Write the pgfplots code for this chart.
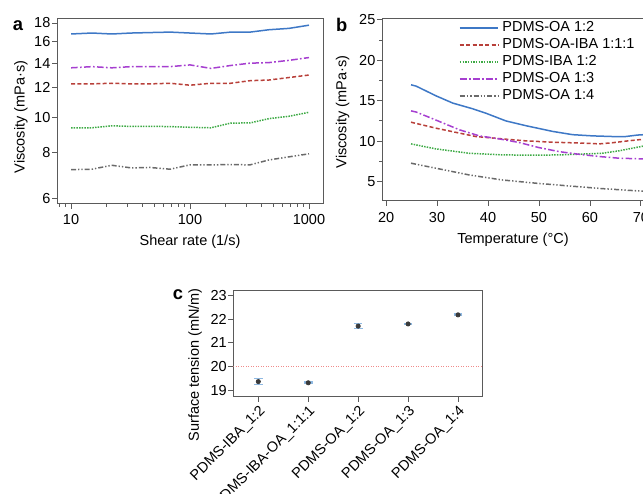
\documentclass[border=0pt]{standalone}
\usepackage{pgfplots}
\pgfplotsset{compat=1.18}
\usepackage{fontspec}
\setmainfont{Liberation Sans}
\setsansfont{Liberation Sans}

\definecolor{cblue}{HTML}{3E78C6}
\definecolor{cred}{HTML}{B8403A}
\definecolor{cgreen}{HTML}{3DAA45}
\definecolor{cpurple}{HTML}{A63FD0}
\definecolor{cgray}{HTML}{6A6A6A}
\definecolor{axisgray}{HTML}{5A5A5A}
\definecolor{ebblue}{HTML}{8FB9E2}
\definecolor{markgray}{HTML}{3A3A3A}
\definecolor{refred}{HTML}{F08A8A}

\newcommand{\tickfont}{\fontsize{8.7}{10}\selectfont}
\newcommand{\labfont}{\fontsize{8.7}{10}\selectfont}

\pgfplotsset{
  every axis/.append style={
    scale only axis,
    axis line style={draw=axisgray, line width=0.6pt},
    tick style={draw=axisgray, line width=0.5pt},
    tick align=outside,
    tick pos=left,
    major tick length=3pt,
    minor tick length=1.8pt,
    ticklabel style={font=\tickfont},
    yticklabel style={inner sep=0.8pt},
    /pgf/number format/assume math mode=true,
  },
  lblue/.style={cblue, line width=0.9pt},
  lred/.style={cred, line width=0.9pt, dash pattern=on 2.4pt off 1.4pt},
  lgreen/.style={cgreen, line width=0.9pt, dash pattern=on 0.9pt off 0.7pt},
  lpurple/.style={cpurple, line width=0.9pt, dash pattern=on 4pt off 1.4pt on 1pt off 1.4pt},
  lgray/.style={cgray, line width=0.9pt, dash pattern=on 3pt off 1.2pt on 0.8pt off 1.2pt on 0.8pt off 1.2pt},
}

\begin{document}
\begin{tikzpicture}
\useasboundingbox (0,0) rectangle (385.8pt,-296.4pt);

% ---------- panel a ----------
\begin{axis}[
    at={(34.2pt,-122.4pt)}, anchor=south west,
    width=159.6pt, height=111pt,
    xmode=log, ymode=log,
    xmin=7.62, xmax=1312,
    ymin=5.81, ymax=18.45,
    xtick={10,100,1000}, xticklabels={10,100,1000},
    minor xtick={8,9,20,30,40,50,60,70,80,90,200,300,400,500,600,700,800,900},
    ytick={6,8,10,12,14,16,18}, yticklabels={6,8,10,12,14,16,18},
    yminorticks=false,
  ]
  \addplot[lblue] coordinates {
    (10,16.8)(15,16.9)(22,16.8)(32,16.9)(46,16.95)(68,17.0)(100,16.9)
    (150,16.8)(220,17.0)(320,17.0)(460,17.25)(680,17.4)(1000,17.75)};
  \addplot[lpurple] coordinates {
    (10,13.6)(15,13.7)(22,13.6)(32,13.7)(46,13.7)(68,13.7)(100,13.85)
    (150,13.55)(220,13.8)(320,14.0)(460,14.05)(680,14.25)(1000,14.5)};
  \addplot[lred] coordinates {
    (10,12.3)(15,12.3)(22,12.35)(32,12.3)(46,12.3)(68,12.35)(100,12.2)
    (150,12.35)(220,12.35)(320,12.55)(460,12.6)(680,12.8)(1000,13.0)};
  \addplot[lgreen] coordinates {
    (10,9.34)(15,9.35)(22,9.47)(32,9.43)(46,9.44)(68,9.42)(100,9.38)
    (150,9.35)(220,9.63)(320,9.64)(460,9.9)(680,10.05)(1000,10.3)};
  \addplot[lgray] coordinates {
    (10,7.2)(15,7.22)(22,7.4)(32,7.28)(46,7.3)(68,7.22)(100,7.42)
    (150,7.42)(220,7.43)(320,7.42)(460,7.65)(680,7.8)(1000,7.95)};
\end{axis}

% ---------- panel b ----------
\begin{axis}[
    at={(229.2pt,-120.6pt)}, anchor=south west,
    width=158.4pt, height=109.2pt,
    xmin=19.2, xmax=71,
    ymin=2.6, ymax=25.1,
    xtick={20,30,40,50,60,70},
    ytick={5,10,15,20,25},
    minor y tick num=1,
    legend cell align=left,
    legend style={at={(0.285,1.014)}, anchor=north west, draw=none, fill=none,
      font=\tickfont, inner sep=1pt, row sep=-1.4pt},
    legend image code/.code={%
      \draw[#1] (0pt,0pt) -- (20pt,0pt);
      \path (0pt,0pt) -- (23pt,0pt);},
  ]
  \addplot[lblue] coordinates {
    (24.9,16.96)(25.9,16.8)(29.8,15.6)(33.1,14.7)(37,14.0)(39.6,13.45)
    (43.5,12.5)(47.5,11.9)(52.7,11.2)(56.6,10.8)(60.5,10.65)(64.4,10.57)
    (67,10.57)(69.3,10.75)(70.6,10.8)};
  \addplot[lred] coordinates {
    (24.9,12.34)(29.8,11.6)(37.6,10.57)(43.5,10.24)(47.5,10.03)(52.7,9.87)
    (59.2,9.74)(61.8,9.66)(64.4,9.8)(67.7,10.05)(70.6,10.24)};
  \addplot[lgreen] coordinates {
    (24.9,9.66)(29.8,9.04)(36.3,8.5)(42.8,8.3)(49.4,8.26)(54,8.3)
    (59.2,8.42)(62.4,8.5)(65.7,8.8)(70.6,9.4)};
  \addplot[lpurple] coordinates {
    (24.9,13.74)(25.9,13.6)(29.8,12.6)(34.4,11.4)(38.3,10.65)(42.2,10.28)
    (46.1,9.83)(50,9.2)(54,8.7)(57.9,8.37)(61.8,8.1)(65.7,7.89)(70.6,7.8)};
  \addplot[lgray] coordinates {
    (24.9,7.27)(29.8,6.65)(36.3,5.82)(42.8,5.2)(49.4,4.8)(55.9,4.46)
    (62.4,4.13)(70.6,3.8)};
  \legend{PDMS-OA 1:2, PDMS-OA-IBA 1:1:1, PDMS-IBA 1:2, PDMS-OA 1:3, PDMS-OA 1:4}
\end{axis}

% ---------- panel c ----------
\begin{axis}[
    at={(140pt,-238pt)}, anchor=south west,
    width=149.8pt, height=64pt,
    xmin=-0.5, xmax=4.5,
    ymin=18.75, ymax=23.21,
    xtick={0,1,2,3,4},
    xticklabels={PDMS-IBA\_1:2, PDMS-IBA-OA\_1:1:1, PDMS-OA\_1:2, PDMS-OA\_1:3, PDMS-OA\_1:4},
    xticklabel style={rotate=45, anchor=north east, inner sep=1pt},
    ytick={19,20,21,22,23},
  ]
  \addplot[refred, line width=0.5pt, densely dotted] coordinates {(-0.5,20) (4.5,20)};
  \addplot[only marks, mark=*, mark size=1.3pt, color=markgray,
    error bars/.cd, y dir=both, y explicit,
    error bar style={ebblue, line width=0.8pt},
    error mark options={ebblue, mark size=2.6pt, line width=0.8pt, rotate=90}]
    coordinates {
      (0,19.38) +- (0,0.12)
      (1,19.33) +- (0,0.04)
      (2,21.70) +- (0,0.11)
      (3,21.79) +- (0,0.03)
      (4,22.17) +- (0,0.04)};
\end{axis}

% ---------- labels ----------
\node[font=\labfont, rotate=90] at (12.6pt,-70.2pt) {Viscosity (mPa·s)};
\node[font=\labfont] at (114pt,-145.2pt) {Shear rate (1/s)};
\node[font=\labfont, rotate=90] at (205.5pt,-67.2pt) {Viscosity (mPa·s)};
\node[font=\labfont] at (307.8pt,-144pt) {Temperature (°C)};
\node[font=\labfont, rotate=90] at (117pt,-219pt) {Surface tension (mN/m)};
\node[font=\fontsize{11}{12}\selectfont\bfseries] at (10.8pt,-15.6pt) {a};
\node[font=\fontsize{11}{12}\selectfont\bfseries] at (205pt,-15pt) {b};
\node[font=\fontsize{11}{12}\selectfont\bfseries] at (106.8pt,-177pt) {c};
\end{tikzpicture}
\end{document}
